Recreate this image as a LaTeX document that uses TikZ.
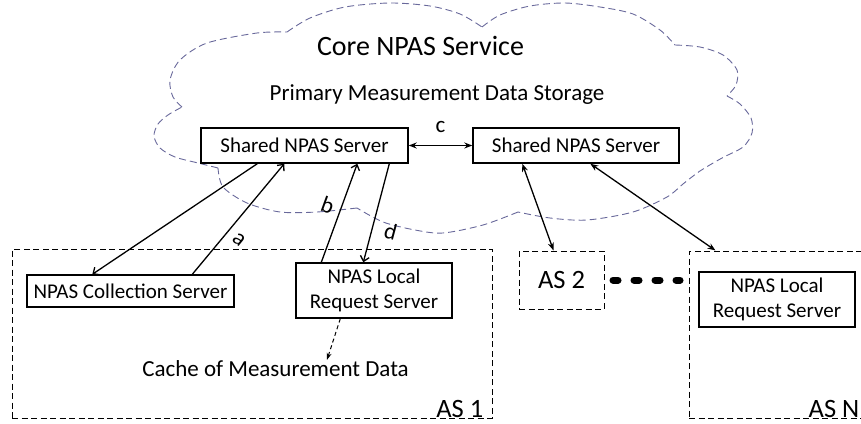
\documentclass[tikz,border=0pt]{standalone}
\usepackage{fontspec}
\setmainfont{Carlito}
\usetikzlibrary{arrows.meta, positioning, calc}
\definecolor{cloudblue}{RGB}{105,105,155}

\begin{document}
\begin{tikzpicture}[x=1pt, y=-1pt,
    server/.style={draw, line width=1.4pt, inner sep=0, align=center, font=\fontsize{21}{25}\selectfont},
    asbox/.style={draw, line width=1pt, dash pattern=on 6pt off 3.5pt, inner sep=0},
    aslabel/.style={inner sep=0, font=\fontsize{26.5}{30}\selectfont},
    lbl/.style={inner sep=0, font=\fontsize{23}{27}\selectfont},
    flow/.style={-{Straight Barb[length=5pt,width=9pt]}, line width=1.3pt},
    biflow/.style={{Stealth[length=8pt,width=6pt]}-{Stealth[length=8pt,width=6pt]}, line width=1.3pt},
    cloudline/.style={cloudblue, line width=0.9pt, dash pattern=on 7pt off 4pt}]
\useasboundingbox (0,0) rectangle (861,423);

% Core cloud
\draw[cloudline]
    plot[smooth] coordinates {(287,32) (310,18) (345,7) (390,3) (430,6) (460,14) (482,27)}
    plot[smooth] coordinates {(482,27) (500,15) (530,6) (565,3) (600,7) (633,14) (660,30) (675,45)}
    plot[smooth] coordinates {(675,45) (700,47) (723,55) (737,70) (736,85) (727,96)}
    plot[smooth] coordinates {(727,96) (740,104) (751,118) (752,133) (743,147) (722,158) (700,171) (683,184) (667,197) (633,212) (587,220) (550,218) (518,212)}
    plot[smooth] coordinates {(518,212) (483,225) (443,233) (415,230) (383,222) (357,208)}
    plot[smooth] coordinates {(357,208) (317,212) (280,212) (247,203) (223,187) (218,168)}
    plot[smooth] coordinates {(218,168) (198,163) (175,157) (160,148) (154,136) (158,124) (168,115) (182,107)}
    plot[smooth] coordinates {(182,107) (173,97) (170,80) (180,60) (207,43) (257,33) (287,32)};
\node[anchor=base, font=\fontsize{28}{32}\selectfont] (core) at (420.5,55) {Core NPAS Service};
\node[anchor=base, font=\fontsize{23}{27}\selectfont] (primary) at (437,100) {Primary Measurement Data Storage};

% Shared servers
\node[server, minimum width=207pt, minimum height=35pt] (shl) at (304.5,145.5) {Shared NPAS Server};
\node[server, minimum width=206pt, minimum height=35pt] (shr) at (576,145.5) {Shared NPAS Server};

% AS 1
\node[asbox, minimum width=480pt, minimum height=169pt] (as1) at (252,333.5) {};
\node[server, minimum width=207pt, minimum height=32pt] (col) at (130.5,291) {NPAS Collection Server};
\node[server, minimum width=156pt, minimum height=55pt] (lrs) at (374,290.5) {NPAS Local\\Request Server};
\node[lbl, anchor=base] (cache) at (275.5,376) {Cache of Measurement Data};
\node[aslabel, anchor=base east] (as1lbl) at ([xshift=-9pt, yshift=1pt]as1.south east) {AS 1};

% AS 2 and AS N
\node[asbox, aslabel, minimum width=85pt, minimum height=58pt] (as2) at (561.5,280) {AS 2};
\node[asbox, minimum width=174pt, minimum height=167pt] (asn) at (776,334.5) {};
\node[server, minimum width=156pt, minimum height=55pt] (lrn) at (777,299.5) {NPAS Local\\Request Server};
\node[aslabel, anchor=base east] (asnlbl) at ([xshift=-4pt, yshift=1pt]asn.south east) {AS N};

% Exchanges
\draw[flow] ([xshift=57pt]shl.south west) -- ([xshift=66pt]col.north west);
\draw[flow] ([xshift=166pt]col.north west) -- ([xshift=84pt]shl.south west)
    node[lbl, pos=0.31, xshift=18pt, rotate=-39] {a};
\draw[flow] ([xshift=26pt]lrs.north west) -- ([xshift=157pt]shl.south west)
    node[lbl, pos=0.58, xshift=-14.5pt, rotate=-20] {b};
\draw[flow] ([xshift=189pt]shl.south west) -- ([xshift=68pt]lrs.north west)
    node[lbl, pos=0.69, xshift=19.5pt, rotate=-15] {d};
\draw[biflow] (shl.east) -- (shr.west) node[lbl, midway, above=12.5pt] {c};
\draw[biflow] ([xshift=50pt]shr.south west) -- ([xshift=35pt]as2.north west);
\draw[biflow] ([xshift=118pt]shr.south west) -- ([xshift=27pt]asn.north west);
\draw[-{Stealth[length=7pt,width=5pt]}, line width=1pt, dash pattern=on 4pt off 3pt]
    ([xshift=45pt]lrs.south west) -- ([xshift=51.5pt]cache.north);

% Dots between AS 2 and AS N
\draw[line width=7pt, line cap=round, dash pattern=on 5pt off 16pt, shorten <=8.5pt, shorten >=8.5pt]
    (as2.east) -- (as2.east -| asn.west);
\end{tikzpicture}
\end{document}
